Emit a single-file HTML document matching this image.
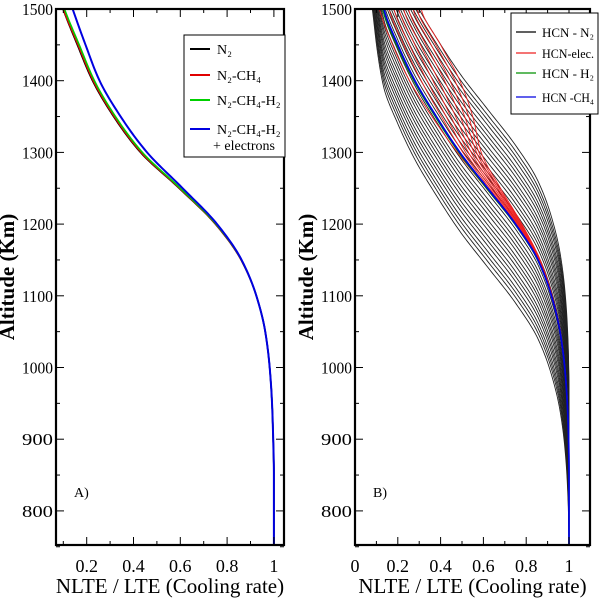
<!DOCTYPE html>
<html><head><meta charset="utf-8"><style>
body{margin:0;background:#fff}
svg{display:block}
text{font-family:"Liberation Serif",serif;fill:#000}
</style></head><body>
<svg id="c" width="600" height="598" viewBox="0 0 600 598" xmlns="http://www.w3.org/2000/svg"></svg>
<script>
// Data (altitude km -> NLTE/LTE)
const altGrid = [1750,1700,1650,1600,1550,1500,1450,1400,1350,1300,1250,1200,1150,1100,1050,1000,950,900,850,800,750,700,600,500];
const n2 = [0.0,0.0,0.0,0.02,0.05,0.099,0.16,0.225,0.315,0.43,0.595,0.75,0.86,0.925,0.963,0.982,0.992,0.997,1,1,1,1,1,1];
const n2ch4 = [0.0,0.0,0.0,0.02,0.05,0.10,0.163,0.228,0.318,0.433,0.597,0.751,0.86,0.925,0.963,0.982,0.992,0.997,1,1,1,1,1,1];
const n2ch4h2 = [0.0,0.0,0.0,0.025,0.055,0.105,0.168,0.233,0.323,0.438,0.6,0.753,0.861,0.925,0.963,0.982,0.992,0.997,1,1,1,1,1,1];
const withElectrons = [0.0,0.0,0.0,0.04,0.09,0.14,0.195,0.255,0.345,0.458,0.61,0.757,0.862,0.925,0.963,0.982,0.992,0.997,1,1,1,1,1,1];
// Panel B base profile
const baseB = [0.03,0.045,0.065,0.085,0.105,0.135,0.2,0.28,0.38,0.49,0.62,0.75,0.855,0.918,0.958,0.98,0.992,0.998,1,1,1,1,1,1];
const hcnH2 = [0.03,0.045,0.065,0.085,0.103,0.13,0.195,0.275,0.375,0.485,0.615,0.747,0.853,0.918,0.958,0.98,0.992,0.998,1,1,1,1,1,1];
const redEdge = [0.2,0.22,0.25,0.27,0.29,0.31,0.40,0.49,0.55,0.59,0.68,0.78,0.865,0.922,0.96,0.981,0.993,0.998,1,1,1,1,1,1];
const n2Shifts = [-110,-102,-95,-88,-80,-73,-66,-58,-51,-44,-36,-29,-22,-15,-7,0,7,15,22,29,36,44,51,58,66,73,80,88,95,102,110];
const elecFrac = [-0.12,0.14,0.27,0.4,0.53,0.66,0.78,0.89,1.0];
const yTicks = [800,900,1000,1100,1200,1300,1400,1500];
const xTicksA = [0.2,0.4,0.6,0.8,1];
const xTicksB = [0,0.2,0.4,0.6,0.8,1];
const legendA = ["N₂","N₂-CH₄","N₂-CH₄-H₂","N₂-CH₄-H₂"];
const legendB = ["HCN - N₂","HCN-elec.","HCN - H₂","HCN -CH₄"];

const NS="http://www.w3.org/2000/svg";
const svg=document.getElementById('c');
function mk(t,a,p){const e=document.createElementNS(NS,t);for(const k in a)e.setAttribute(k,a[k]);(p||svg).appendChild(e);return e;}
function interp(arr,z){
  const n=altGrid.length;
  if(z>=altGrid[0])return arr[0];
  if(z<=altGrid[n-1])return arr[n-1];
  let i=0;while(i<n-2&&z<altGrid[i+1])i++;
  const h=altGrid[i]-altGrid[i+1];
  const sl=j=>{
    if(j<=0)return arr[1]-arr[0];
    if(j>=n-1)return arr[n-1]-arr[n-2];
    const a=arr[j]-arr[j-1],b=arr[j+1]-arr[j];
    if(a*b<=0)return 0;
    return 2*a*b/(a+b);
  };
  const m0=sl(i),m1=sl(i+1),t=(altGrid[i]-z)/h;
  const t2=t*t,t3=t2*t;
  return (2*t3-3*t2+1)*arr[i]+(t3-2*t2+t)*m0+(-2*t3+3*t2)*arr[i+1]+(t3-t2)*m1;
}
function yS(z){return 9+(1500-z)*0.717;}
const yTop=9,yBot=545;
const panels=[
 {l:56,r:284,x0:39.9,k:234,ticks:xTicksA,name:'a'},
 {l:355,r:590,x0:355,k:214,ticks:xTicksB,name:'b'}];
function curvePath(p,fn){
  let d='';for(let z=1503;z>=748;z-=3){const x=p.x0+p.k*fn(z);d+=(d?'L':'M')+x.toFixed(2)+','+yS(z).toFixed(2);}return d;
}
panels.forEach((p,pi)=>{
  const g=mk('g',{});
  
  
  const cp=mk('clipPath',{id:'clip'+pi},g);
  mk('rect',{x:p.l,y:yTop,width:p.r-p.l,height:yBot-yTop},cp);
  const plot=mk('g',{'clip-path':'url(#clip'+pi+')'},g);
  if(pi===0){
    const names=['n2','n2-ch4','n2-ch4-h2','n2-ch4-h2-electrons'];
    [[n2,'#000'],[n2ch4,'#e00000'],[n2ch4h2,'#00d000'],[withElectrons,'#0000e0']].forEach((s,i)=>{
      const el=mk('path',{d:curvePath(p,z=>interp(s[0],z)),fill:'none',stroke:s[1],'stroke-width':i===3?2:1.6},plot);
      
      
    });
  } else {
    n2Shifts.forEach(s=>{
      const el=mk('path',{d:curvePath(p,z=>interp(baseB,z-s)),fill:'none',stroke:'#222','stroke-width':0.9},plot);
      
      
    });
    elecFrac.forEach(f=>{
      const el=mk('path',{d:curvePath(p,z=>{const b=interp(baseB,z);return b+f*(interp(redEdge,z)-b);}),fill:'none',stroke:'#ee2020','stroke-width':0.9},plot);
      
      
    });
    const gl=mk('path',{d:curvePath(p,z=>interp(hcnH2,z)),fill:'none',stroke:'#009000','stroke-width':1.4},plot);
    
    
    const bl=mk('path',{d:curvePath(p,z=>interp(baseB,z)),fill:'none',stroke:'#0000e0','stroke-width':1.8},plot);
    
    
  }
  for(let z=750;z<=1500;z+=50){const y=yS(z),L=(z%100===0)?8:4;
    mk('line',{x1:p.l,x2:p.l+L,y1:y,y2:y,stroke:'#000','stroke-width':1},g);
    mk('line',{x1:p.r,x2:p.r-L,y1:y,y2:y,stroke:'#000','stroke-width':1},g);}
  for(let i=0;i<=11;i++){const vv=i/10;const x=p.x0+p.k*vv;if(x<=p.l+1||x>=p.r-1)continue;
    const L=(i%2===0)?8:4;
    mk('line',{x1:x,x2:x,y1:yBot,y2:yBot-L,stroke:'#000','stroke-width':1},g);
    mk('line',{x1:x,x2:x,y1:yTop,y2:yTop+L,stroke:'#000','stroke-width':1},g);}
  yTicks.forEach(z=>{const t=mk('text',{x:p.l-3,y:yS(z)+6,'text-anchor':'end','font-size':17,'textLength':31,'lengthAdjust':'spacingAndGlyphs'},g);t.textContent=z;
    
    });
  p.ticks.forEach(v=>{const t=mk('text',{x:p.x0+p.k*v,y:572,'text-anchor':'middle','font-size':18},g);t.textContent=v;
    
    });
  mk('rect',{x:p.l,y:yTop,width:p.r-p.l,height:yBot-yTop,fill:'none',stroke:'#000','stroke-width':2.2},g);
  const xt=mk('text',{x:(p.l+p.r)/2,y:593,'text-anchor':'middle','font-size':21},g);xt.textContent='NLTE / LTE (Cooling rate)';
  
  
  const cx=p.l-42;
  const yt=mk('text',{x:cx,y:277,'text-anchor':'middle','font-size':21,'font-weight':'bold',transform:'rotate(-90 '+cx+' 277)'},g);yt.textContent='Altitude (Km)';
  
  
  const pl=mk('text',{x:p.l+18,y:497,'font-size':14},g);pl.textContent=pi?'B)':'A)';
  
  
});
(function(){
  const g=mk('g',{});
  
  
  mk('rect',{x:184,y:35,width:101,height:122,fill:'#fff',stroke:'#000','stroke-width':1},g);
  const cols=['#000','#e00000','#00d000','#0000e0'],ys=[49,75,100,129];
  legendA.forEach((s,i)=>{
    mk('line',{x1:190,x2:210,y1:ys[i],y2:ys[i],stroke:cols[i],'stroke-width':2},g);
    const t=mk('text',{x:217,y:ys[i]+5,'font-size':14},g);t.textContent=s;
    
    
  });
  const t=mk('text',{x:213,y:150,'font-size':14},g);t.textContent='+ electrons';
  
  
})();
(function(){
  const g=mk('g',{});
  
  
  mk('rect',{x:511,y:13,width:87,height:101,fill:'#fff',stroke:'#000','stroke-width':1},g);
  const cols=['#000','#ee2020','#009000','#0000e0'],ys=[32,53,73,97];
  legendB.forEach((s,i)=>{
    mk('line',{x1:516,x2:536,y1:ys[i],y2:ys[i],stroke:cols[i],'stroke-width':1.2},g);
    const t=mk('text',{x:542,y:ys[i]+5,'font-size':13,'textLength':52,'lengthAdjust':'spacingAndGlyphs'},g);t.textContent=s;
    
    
  });
})();
</script>
</body></html>
